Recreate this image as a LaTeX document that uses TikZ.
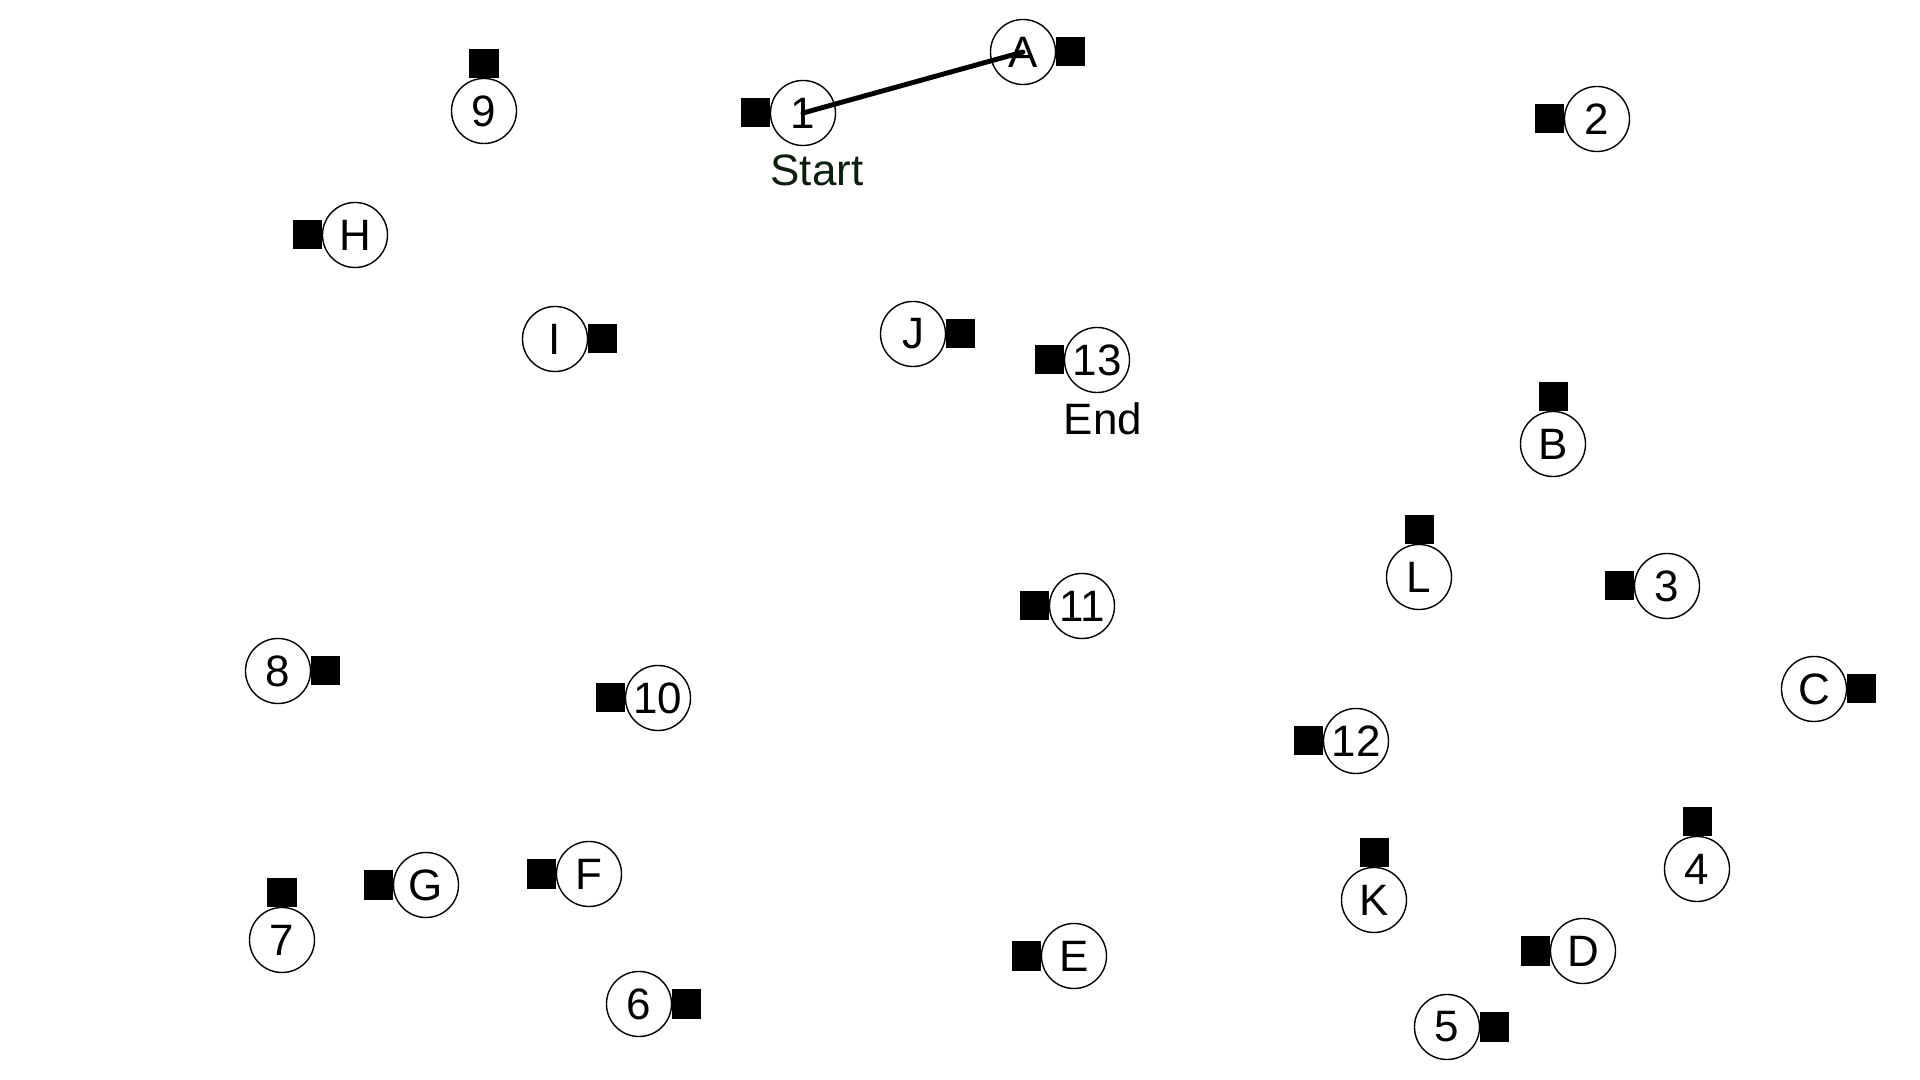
\documentclass[tikz,border=0pt]{standalone}
\usepackage{fontspec}
\setmainfont{Liberation Sans}
\usetikzlibrary{positioning}
\definecolor{startgreen}{RGB}{10,32,10}

\begin{document}
\begin{tikzpicture}[x=0.01cm,y=-0.01cm,line cap=round,line join=round,
  stop/.style={circle,draw,line width=.4pt,minimum size=6.5mm,inner sep=0pt,outer sep=0pt,font=\fontsize{12.5}{12.5}\selectfont},
  pad/.style={fill=black,minimum size=2.9mm,inner sep=0pt,outer sep=0pt},
  lbl/.style={font=\fontsize{12.5}{12.5}\selectfont,inner sep=0pt}]
\path[use as bounding box] (0,0) rectangle (1920,1080);
% numbered stops
\node[stop] (n1) at (803,113) {1};
\node[stop] (n2) at (1597,119) {2};
\node[stop] (n3) at (1667,586) {3};
\node[stop] (n4) at (1697,869) {4};
\node[stop] (n5) at (1447,1027) {5};
\node[stop] (n6) at (639,1004) {6};
\node[stop] (n7) at (282,940) {7};
\node[stop] (n8) at (278,671) {8};
\node[stop] (n9) at (484,111) {9};
\node[stop] (n10) at (658,698) {10};
\node[stop] (n11) at (1082,606) {11};
\node[stop] (n12) at (1356,741) {12};
\node[stop] (n13) at (1097,360) {13};
% lettered stops
\node[stop] (nA) at (1023,52) {A};
\node[stop] (nB) at (1553,444) {B};
\node[stop] (nC) at (1814,689) {C};
\node[stop] (nD) at (1583,951) {D};
\node[stop] (nE) at (1074,956) {E};
\node[stop] (nF) at (589,874) {F};
\node[stop] (nG) at (426,885) {G};
\node[stop] (nH) at (355,235) {H};
\node[stop] (nI) at (555,339) {I};
\node[stop] (nJ) at (913,334) {J};
\node[stop] (nK) at (1374,900) {K};
\node[stop] (nL) at (1419,577) {L};
% pads
\node[pad,left=0pt of n1] (p1) {};
\node[pad,left=0pt of n2] (p2) {};
\node[pad,left=0pt of n3] (p3) {};
\node[pad,above=0pt of n4] (p4) {};
\node[pad,right=0pt of n5] (p5) {};
\node[pad,right=0pt of n6] (p6) {};
\node[pad,above=0pt of n7] (p7) {};
\node[pad,right=0pt of n8] (p8) {};
\node[pad,above=0pt of n9] (p9) {};
\node[pad,left=0pt of n10] (p10) {};
\node[pad,left=0pt of n11] (p11) {};
\node[pad,left=0pt of n12] (p12) {};
\node[pad,left=0pt of n13] (p13) {};
\node[pad,right=0pt of nA] (pA) {};
\node[pad,above=0pt of nB] (pB) {};
\node[pad,right=0pt of nC] (pC) {};
\node[pad,left=0pt of nD] (pD) {};
\node[pad,left=0pt of nE] (pE) {};
\node[pad,left=0pt of nF] (pF) {};
\node[pad,left=0pt of nG] (pG) {};
\node[pad,left=0pt of nH] (pH) {};
\node[pad,right=0pt of nI] (pI) {};
\node[pad,right=0pt of nJ] (pJ) {};
\node[pad,above=0pt of nK] (pK) {};
\node[pad,above=0pt of nL] (pL) {};
% labels
\node[lbl,text=startgreen] (start) at (817,170) {Start};
\node[lbl] (end) at (1103,419) {End};
% route
\draw[line width=1.4pt] (n1.center) -- (nA.center);
\end{tikzpicture}
\end{document}
